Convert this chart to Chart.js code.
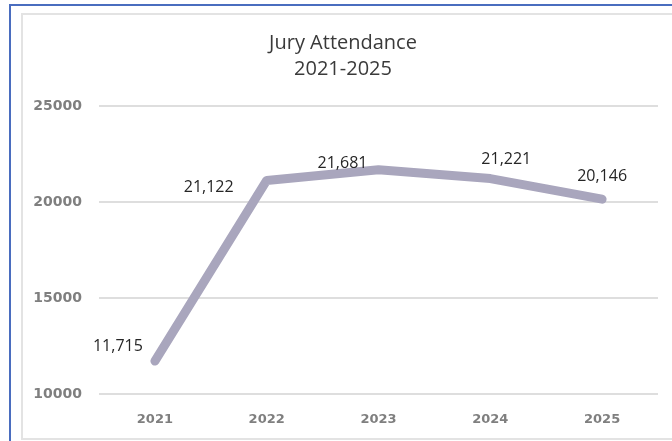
<!DOCTYPE html>
<html>
<head>
<meta charset="utf-8">
<script src="https://cdn.jsdelivr.net/npm/chart.js@4"></script>
<style>
  html, body { margin: 0; padding: 0; background: #ffffff; overflow: hidden; }
  #frame {
    position: absolute; left: 9px; top: 4px; width: 700px; height: 460px;
    border-left: 2px solid #4a6dbf; border-top: 2px solid #4a6dbf;
  }
  #panel {
    position: absolute; left: 21px; top: 13px; width: 680px; height: 423px;
    border: 2px solid #e3e3e3;
  }
  #wrap { position: absolute; left: 0; top: 0; width: 672px; height: 441px; }
</style>
</head>
<body>
<div id="frame"></div>
<div id="panel"></div>
<div id="wrap"><canvas id="chart" width="672" height="441"></canvas></div>
<script>
// Jury attendance per year
const years = ['2021', '2022', '2023', '2024', '2025'];
const attendance = [11715, 21122, 21681, 21221, 20146];
const yTicks = [10000, 15000, 20000, 25000];
const titleLines = ['Jury Attendance', '2021-2025'];

// hand-placed label nudges (px, relative to each point)
const labelNudge = [[-37, -15], [-58, 7], [-36, -6], [16, -19], [0, -23]];

const pointLabels = {
  id: 'pointLabels',
  afterDatasetsDraw(chart) {
    const ctx = chart.ctx;
    const meta = chart.getDatasetMeta(0);
    ctx.save();
    ctx.font = '16px "Open Sans", sans-serif';
    ctx.fillStyle = '#262626';
    ctx.textAlign = 'center';
    ctx.textBaseline = 'middle';
    meta.data.forEach((pt, i) => {
      const txt = attendance[i].toLocaleString('en-US');
      ctx.fillText(txt, pt.x + labelNudge[i][0], pt.y + labelNudge[i][1]);
    });
    ctx.restore();
  }
};

new Chart(document.getElementById('chart'), {
  type: 'line',
  data: {
    labels: years,
    datasets: [{
      label: 'Attendance',
      data: attendance,
      borderColor: '#a9a6bd',
      borderWidth: 9,
      borderCapStyle: 'round',
      borderJoinStyle: 'round',
      pointRadius: 0,
      tension: 0,
      fill: false
    }]
  },
  options: {
    responsive: false,
    animation: false,
    layout: { padding: { top: 10, left: 28, right: 14, bottom: 8 } },
    plugins: {
      legend: { display: false },
      tooltip: { enabled: false },
      title: {
        display: true,
        text: titleLines,
        color: '#3a3a3a',
        font: { family: "'Open Sans', sans-serif", size: 20, weight: 'normal', lineHeight: 1.3 },
        padding: { top: 20, bottom: 24 }
      }
    },
    scales: {
      x: {
        offset: true,
        grid: { display: false, drawTicks: false },
        border: { display: false },
        ticks: {
          color: '#7f7f7f',
          padding: 18,
          font: { family: "'DejaVu Sans', sans-serif", size: 13, weight: 'bold' }
        },
        afterFit(scale) { scale.height = 39; }
      },
      y: {
        min: 10000,
        max: 25000,
        afterBuildTicks(scale) { scale.ticks = yTicks.map(v => ({ value: v })); },
        grid: { color: '#dedede', lineWidth: 2, drawTicks: false },
        border: { display: false },
        ticks: {
          color: '#7f7f7f',
          padding: 17,
          font: { family: "'DejaVu Sans', sans-serif", size: 14, weight: 'bold' },
          callback: v => String(v)
        },
        afterFit(scale) { scale.width = 71; }
      }
    }
  },
  plugins: [pointLabels]
});
</script>
</body>
</html>
